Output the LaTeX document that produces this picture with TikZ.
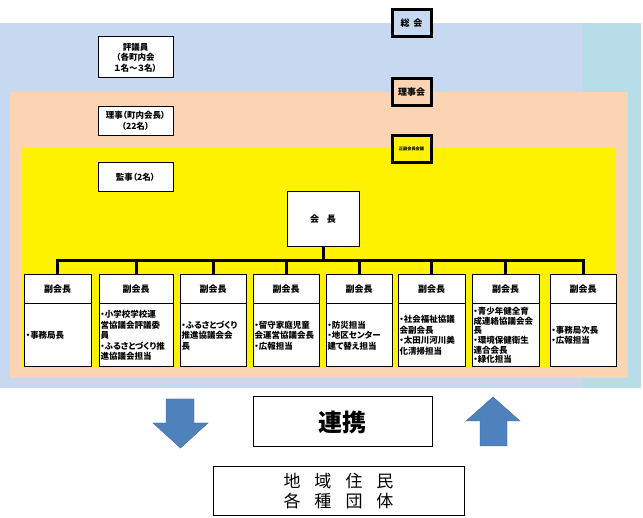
\documentclass[tikz,border=0pt]{standalone}
\usepackage{fontspec}
\setmainfont{Noto Sans CJK JP}
\newfontfamily\pfont{Noto Sans CJK JP}[RawFeature=+palt]
\definecolor{blueband}{HTML}{C6D9F1}
\definecolor{tealband}{HTML}{B7DEE8}
\definecolor{peach}{HTML}{FBD4B4}
\definecolor{arrowblue}{HTML}{4F81BD}
\begin{document}
\begin{tikzpicture}[x=1pt,y=-1pt,
  smallfont/.style={font=\pfont\bfseries\fontsize{8.5}{10.5}\selectfont},
  thinbox/.style={draw=black,line width=1pt,fill=white,inner sep=0pt,align=center,smallfont},
  thickbox/.style={draw=black,line width=3pt,inner sep=0pt,align=center,font=\pfont\bfseries\fontsize{9}{10}\selectfont,minimum width=39pt,minimum height=27pt},
  headbox/.style={thinbox,minimum height=29pt,font=\pfont\bfseries\fontsize{9}{10}\selectfont},
  bodybox/.style={thinbox,minimum height=63pt,align=left},
  busline/.style={draw=black,line width=3pt,line join=miter},
  bigarrow/.style={fill=arrowblue,draw=arrowblue!80!black,line width=0.4pt}]
\useasboundingbox (0,0) rectangle (643,518);
\fill[white] (0,0) rectangle (643,518);
% bands
\fill[blueband] (0,23) rectangle (583,388);
\fill[tealband] (583,23) rectangle (641,388);
\fill[peach] (10,92) rectangle (628,378);
\fill[yellow] (22,148) rectangle (616,368);
% right column boxes
\node[thickbox,fill=blueband] (sokai) at (411.5,23) {総\hspace{4pt}会};
\node[thickbox,fill=peach] (rijikai) at (411.5,92) {理事会};
\node[thickbox,fill=yellow,font=\pfont\bfseries\fontsize{4.2}{5}\selectfont] (seifuku) at (411.5,149) {正副会長会議};
% left column boxes
\node[thinbox,minimum width=75pt,minimum height=41pt] (hyogiin) at (135.5,57.5) {評議員\\（各町内会\\１名～３名）};
\node[thinbox,minimum width=75pt,minimum height=29pt] (riji) at (135.5,121) {理事（町内会長）\\（22名）};
\node[thinbox,minimum width=75pt,minimum height=29pt] (kanji) at (135.5,177.5) {監事（2名）};
% president
\node[thinbox,minimum width=72pt,minimum height=55pt,font=\pfont\bfseries\fontsize{9}{10}\selectfont] (kaicho) at (323,219.5) {会\hspace{8pt}長};
% vice presidents: headers
\node[headbox,minimum width=67pt] (h1) at (57.5,289.5) {副会長};
\node[headbox,minimum width=74pt] (h2) at (136,289.5) {副会長};
\node[headbox,minimum width=66pt] (h3) at (213,289.5) {副会長};
\node[headbox,minimum width=66pt] (h4) at (286,289.5) {副会長};
\node[headbox,minimum width=66pt] (h5) at (359,289.5) {副会長};
\node[headbox,minimum width=67pt] (h6) at (431.5,289.5) {副会長};
\node[headbox,minimum width=67pt] (h7) at (505.5,289.5) {副会長};
\node[headbox,minimum width=66pt] (h8) at (583,289.5) {副会長};
% bodies
\node[bodybox,minimum width=67pt,text width=63pt] (b1) at (57.5,335.5) {・事務局長};
\node[bodybox,minimum width=74pt,text width=71pt] (b2) at (136,335.5) {・小学校学校運\\営協議会評議委\\員\\・ふるさとづくり推\\進協議会担当};
\node[bodybox,minimum width=66pt,text width=63pt] (b3) at (213,335.5) {・ふるさとづくり\\推進協議会会\\長};
\node[bodybox,minimum width=66pt,text width=63pt] (b4) at (286,335.5) {・留守家庭児童\\会運営協議会長\\・広報担当};
\node[bodybox,minimum width=66pt,text width=63pt] (b5) at (359,335.5) {・防災担当\\・地区センター\\建て替え担当};
\node[bodybox,minimum width=67pt,text width=64pt] (b6) at (431.5,335.5) {・社会福祉協議\\会副会長\\・太田川河川美\\化清掃担当};
\node[bodybox,minimum width=67pt,text width=64pt,font=\pfont\bfseries\fontsize{8.5}{9.6}\selectfont] (b7) at (505.5,335.5) {・青少年健全育\\成連絡協議会会\\長\\・環境保健衛生\\連合会長\\・緑化担当};
\node[bodybox,minimum width=66pt,text width=63pt] (b8) at (583,335.5) {・事務局次長\\・広報担当};
% bus
\coordinate (bus) at (0,261);
\draw[busline] (kaicho.south) -- (kaicho.south |- bus);
\draw[busline] (h1.north) -- (h1.north |- bus) -- (h8.north |- bus) -- (h8.north);
\foreach \i in {2,...,7} {\draw[busline] (h\i.north) -- (h\i.north |- bus);}
% bottom
\node[draw=black,line width=1pt,minimum width=179pt,minimum height=50pt,inner sep=0pt,font=\bfseries\fontsize{24}{26}\selectfont] (renkei) at (342.5,422) {連携};
\node[draw=black,line width=1pt,minimum width=251pt,minimum height=49pt,inner sep=0pt,align=center,font=\fontsize{17}{20}\selectfont] (jumin) at (338.5,491.5) {地\hspace{14pt}域\hspace{14pt}住\hspace{14pt}民\\各\hspace{14pt}種\hspace{14pt}団\hspace{14pt}体};
\fill[bigarrow] (166,399) -- (194,399) -- (194,423) -- (208,423) -- (180.5,448) -- (153,423) -- (166,423) -- cycle;
\fill[bigarrow] (493,397) -- (520,421) -- (507,421) -- (507,446) -- (480,446) -- (480,421) -- (466,421) -- cycle;
\end{tikzpicture}
\end{document}
